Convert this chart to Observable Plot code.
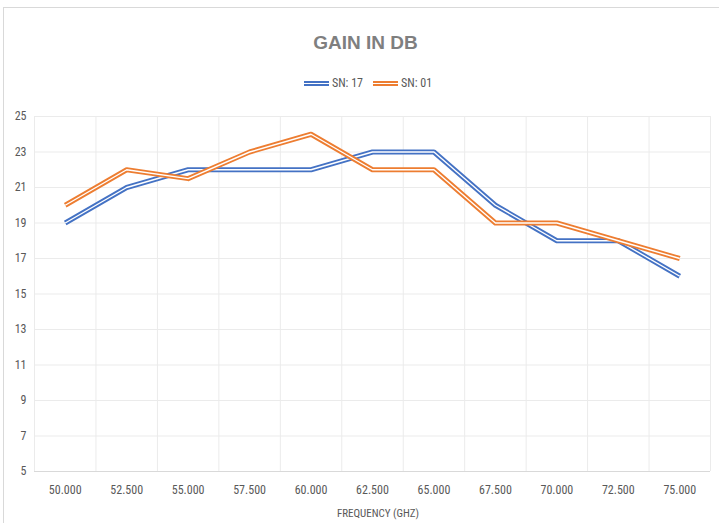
<!DOCTYPE html>
<html><head><meta charset="utf-8">
<script src="https://cdn.jsdelivr.net/npm/d3@7"></script>
<script src="https://cdn.jsdelivr.net/npm/@observablehq/plot@0.6"></script>
<style>
body{margin:0;background:#fff;font-family:"Liberation Sans Narrow","Roboto Condensed","Liberation Sans",sans-serif;}
#wrap{position:relative;width:719px;height:523px;overflow:hidden;background:#fff}
#border{position:absolute;left:3px;top:7px;width:800px;height:600px;border:1px solid #d9d9d9;box-sizing:border-box}
#title{position:absolute;top:32px;left:0;width:731px;text-align:center;font-size:19px;font-weight:bold;color:#7f7f7f;font-family:"Liberation Sans Narrow","Liberation Sans",sans-serif}
#legend{position:absolute;top:76px;left:0;width:736px;display:flex;justify-content:center;align-items:center;font-size:12px;color:#595959}
.item{display:flex;align-items:center;margin:0 5px}
.sw{width:25px;height:1px;border-top:2px solid;border-bottom:2px solid;margin-right:3px}
#chart{position:absolute;left:0;top:100px}
#xtitle{position:absolute;top:507px;left:0;width:756px;text-align:center;font-size:11px;color:#595959}
</style></head>
<body>
<div id="wrap">
<div id="border"></div>
<div id="title">GAIN IN DB</div>
<div id="legend"></div>
<div id="chart"></div>
<div id="xtitle">FREQUENCY (GHZ)</div>
</div>
<script>
const freqs = [50, 52.5, 55, 57.5, 60, 62.5, 65, 67.5, 70, 72.5, 75];
const sn17 = [19, 21, 22, 22, 22, 23, 23, 20, 18, 18, 16];
const sn01 = [20, 22, 21.5, 23, 24, 22, 22, 19, 19, 18, 17];
const yTicks = [5, 7, 9, 11, 13, 15, 17, 19, 21, 23, 25];
const seriesNames = ["SN: 17", "SN: 01"];
const seriesColors = ["#4472c4", "#ed7d31"];

const step = freqs[1] - freqs[0];
const bounds = freqs.map(f => f - step / 2).concat([freqs[freqs.length - 1] + step / 2]);
const rows17 = freqs.map((f, i) => ({f, g: sn17[i], s: seriesNames[0]}));
const rows01 = freqs.map((f, i) => ({f, g: sn01[i], s: seriesNames[1]}));

const leg = document.getElementById("legend");
seriesNames.forEach((n, i) => {
  const it = document.createElement("div"); it.className = "item";
  const sw = document.createElement("div"); sw.className = "sw"; sw.style.borderColor = seriesColors[i];
  const t = document.createElement("span"); t.textContent = n;
  it.appendChild(sw); it.appendChild(t); leg.appendChild(it);
});

const lineOpts = {x: "f", y: "g", strokeLinecap: "butt", strokeLinejoin: "round"};
const chart = Plot.plot({
  width: 719, height: 423,
  marginLeft: 34, marginRight: 9, marginTop: 16, marginBottom: 52,
  style: {color: "#595959", fontSize: "12px", fontFamily: "'Liberation Sans Narrow','Roboto Condensed','Liberation Sans',sans-serif", background: "transparent"},
  x: {domain: [bounds[0], bounds[bounds.length - 1]], ticks: freqs, tickFormat: d3.format(".3f"), tickSize: 0, tickPadding: 14, label: null},
  y: {domain: [5, 25], ticks: yTicks, tickSize: 0, tickPadding: 8, label: null},
  color: {domain: seriesNames, range: seriesColors},
  marks: [
    Plot.ruleY(yTicks, {stroke: "#ebebeb"}),
    Plot.ruleX(bounds, {stroke: "#ebebeb"}),
    Plot.ruleY([5], {stroke: "#d9d9d9"}),
    Plot.line(rows17, {...lineOpts, stroke: "s", strokeWidth: 5}),
    Plot.line(rows17, {...lineOpts, stroke: "white", strokeWidth: 1.4}),
    Plot.line(rows01, {...lineOpts, stroke: "s", strokeWidth: 5}),
    Plot.line(rows01, {...lineOpts, stroke: "white", strokeWidth: 1.4})
  ]
});
document.getElementById("chart").appendChild(chart);
</script>
</body></html>
